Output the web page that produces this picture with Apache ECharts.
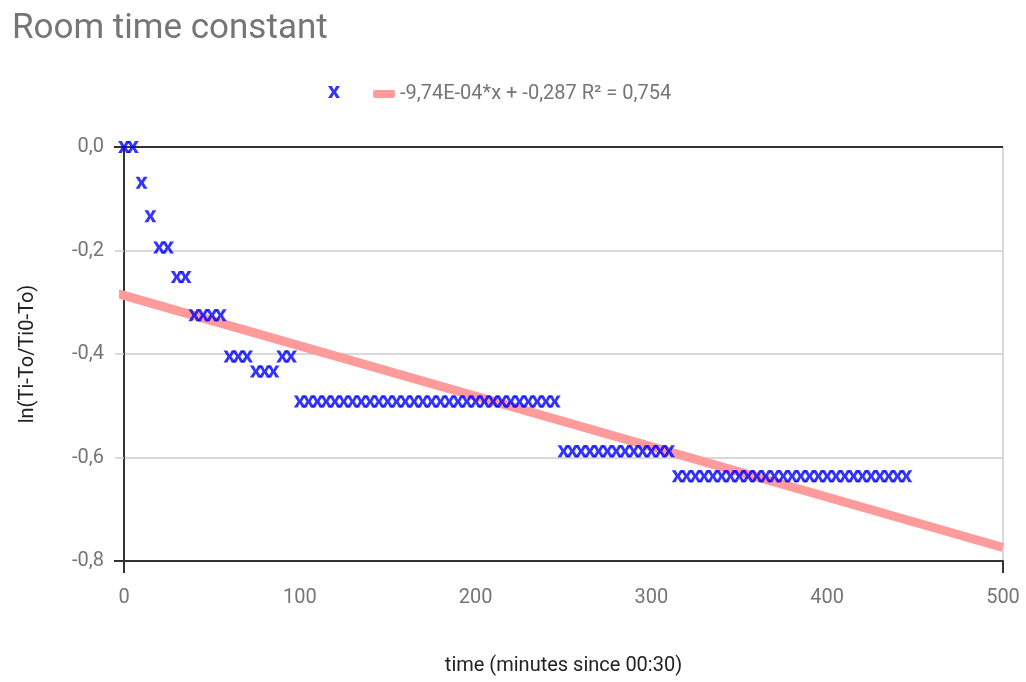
<!DOCTYPE html>
<html>
<head>
<meta charset="utf-8">
<script src="https://cdn.jsdelivr.net/npm/echarts@6/dist/echarts.min.js"></script>
<style>
  html, body { margin: 0; padding: 0; background: #fff; }
  #main { width: 1026px; height: 682px; }
</style>
</head>
<body>
<div id="main"></div>
<script>
// 测量点：时间（分钟）
const minutes = [
  0, 5, 10, 15, 20, 25, 30, 35, 40, 45, 50, 55, 60, 65, 70, 75, 80, 85, 90, 95,
  100, 105, 110, 115, 120, 125, 130, 135, 140, 145, 150, 155, 160, 165, 170,
  175, 180, 185, 190, 195, 200, 205, 210, 215, 220, 225, 230, 235, 240, 245,
  250, 255, 260, 265, 270, 275, 280, 285, 290, 295, 300, 305, 310,
  315, 320, 325, 330, 335, 340, 345, 350, 355, 360, 365, 370, 375, 380, 385,
  390, 395, 400, 405, 410, 415, 420, 425, 430, 435, 440, 445,
];
// ln(Ti-To/Ti0-To)
const lnRatio = [
  0, 0, -0.069, -0.134, -0.194, -0.194, -0.251, -0.251, -0.325, -0.325, -0.325, -0.325,
  -0.405, -0.405, -0.405, -0.434, -0.434, -0.434, -0.405, -0.405,
  -0.492, -0.492, -0.492, -0.492, -0.492, -0.492, -0.492, -0.492, -0.492, -0.492,
  -0.492, -0.492, -0.492, -0.492, -0.492, -0.492, -0.492, -0.492, -0.492, -0.492,
  -0.492, -0.492, -0.492, -0.492, -0.492, -0.492, -0.492, -0.492, -0.492, -0.492,
  -0.588, -0.588, -0.588, -0.588, -0.588, -0.588, -0.588, -0.588, -0.588, -0.588,
  -0.588, -0.588, -0.588,
  -0.636, -0.636, -0.636, -0.636, -0.636, -0.636, -0.636, -0.636, -0.636, -0.636,
  -0.636, -0.636, -0.636, -0.636, -0.636, -0.636, -0.636, -0.636, -0.636, -0.636,
  -0.636, -0.636, -0.636, -0.636, -0.636, -0.636, -0.636,
];
// 趋势线端点
const trendX = [-6, 500];
const trendY = [-0.281, -0.774];
const trendName = '-9,74E-04*x + -0,287 R² = 0,754';
const pointName = 'ln';

const yTicks = [-0.8, -0.6, -0.4, -0.2, 0];

const crossPath = 'path://M0,0 L3.2,0 L5,3.4 L6.8,0 L10,0 L6.7,5 L10,10 L6.8,10 L5,6.6 L3.2,10 L0,10 L3.3,5 Z';
const fmt = v => v.toFixed(1).replace('.', ',');

const chart = echarts.init(document.getElementById('main'));

const option = {
  backgroundColor: '#fff',
  textStyle: { fontFamily: 'Roboto' },
  title: {
    text: 'Room time constant',
    left: 7,
    top: 7,
    textStyle: { fontSize: 35, fontWeight: 'normal', color: '#757575', fontFamily: 'Roboto' },
  },
  legend: [{
    data: [{ name: pointName, icon: crossPath }],
    left: 323,
    top: 81,
    itemWidth: 12,
    itemHeight: 12,
    formatter: () => '',
  }, {
    data: [{ name: trendName, icon: 'roundRect' }],
    left: 368,
    top: 79,
    itemWidth: 22,
    itemHeight: 8,
    itemGap: 10,
    textStyle: { fontSize: 20, color: '#757575', fontFamily: 'Roboto' },
  }],
  grid: { left: 124, right: 23, top: 147, bottom: 121 },
  xAxis: [{
    type: 'value',
    min: 0,
    max: 500,
    interval: 100,
    name: 'time (minutes since 00:30)',
    nameLocation: 'middle',
    nameGap: 95,
    nameTextStyle: { fontSize: 20, color: '#222', fontFamily: 'Roboto' },
    axisLine: { show: true, onZero: false, lineStyle: { color: '#333', width: 2 } },
    axisTick: { show: true, customValues: [0, 500], length: 12, lineStyle: { color: '#333', width: 2 } },
    axisLabel: { fontSize: 20, color: '#757575', margin: 27, fontFamily: 'Roboto' },
    splitLine: { show: true, lineStyle: { color: '#ccc', width: 1.5 } },
  }],
  yAxis: [{
    type: 'value',
    min: -0.8,
    max: 0,
    interval: 0.2,
    name: 'ln(Ti-To/Ti0-To)',
    nameLocation: 'middle',
    nameGap: 86,
    nameTextStyle: { fontSize: 20, color: '#222', fontFamily: 'Roboto' },
    axisLine: { show: true, onZero: false, lineStyle: { color: '#333', width: 2 } },
    axisTick: { show: true, length: 9, lineStyle: { color: '#ccc', width: 1.5 } },
    axisLabel: { fontSize: 20, color: '#757575', margin: 20, formatter: fmt, fontFamily: 'Roboto' },
    splitLine: { show: true, lineStyle: { color: '#ccc', width: 1.5 } },
  }, {
    type: 'value',
    min: -0.8,
    max: 0,
    interval: 0.2,
    position: 'left',
    axisLine: { show: false },
    axisTick: { show: true, customValues: yTicks.filter(v => v === 0 || v === -0.8), length: 10, lineStyle: { color: '#333', width: 2 } },
    axisLabel: { show: false },
    splitLine: { show: false },
  }],
  series: [{
    name: trendName,
    type: 'line',
    data: trendX.map((x, i) => [x, trendY[i]]),
    symbol: 'none',
    clip: false,
    z: 3,
    itemStyle: { color: '#ff9b9b' },
    lineStyle: { color: '#ff9b9b', width: 9, cap: 'butt' },
    markLine: {
      silent: true,
      symbol: 'none',
      label: { show: false },
      lineStyle: { color: '#333', width: 2, type: 'solid' },
      data: [{ yAxis: 0 }],
    },
  }, {
    name: pointName,
    type: 'scatter',
    data: minutes.map((x, i) => [x, lnRatio[i]]),
    symbol: crossPath,
    symbolSize: 12,
    clip: false,
    z: 5,
    itemStyle: { color: '#0000ff' },
  }],
};

chart.setOption(option);
</script>
</body>
</html>
